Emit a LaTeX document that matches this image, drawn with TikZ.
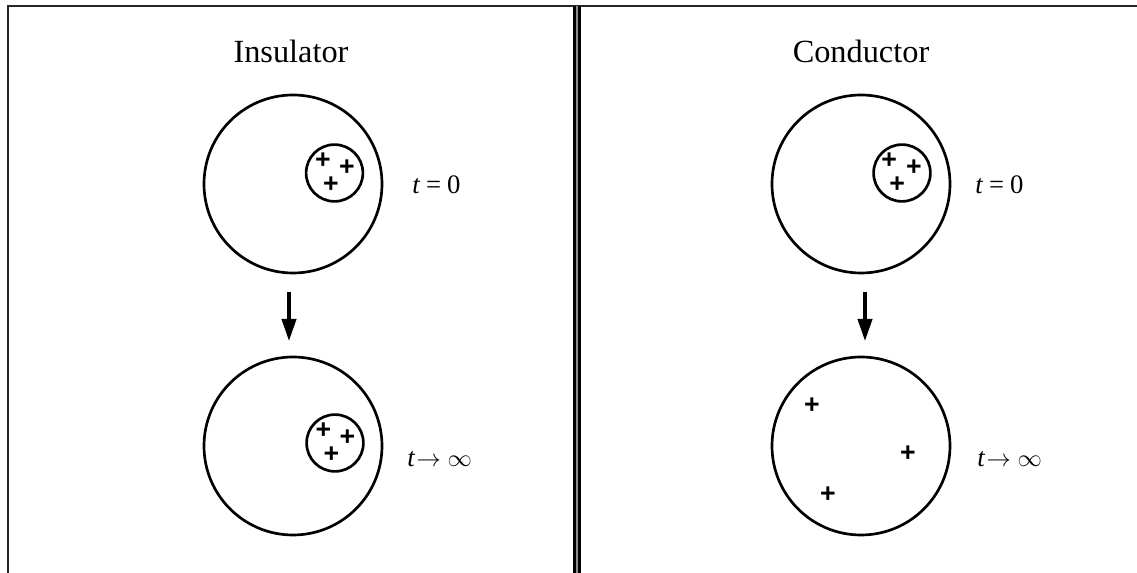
\documentclass[tikz,border=0pt]{standalone}
\usepackage{fontspec}
\setmainfont{Liberation Serif}
\newfontfamily\plusfont{Liberation Sans}
\usetikzlibrary{arrows.meta}

\begin{document}
\begin{tikzpicture}[
	frameline/.style={line width=2pt, black!85},
	ball/.style={circle, draw, line width=1.9pt, minimum size=4.45cm, inner sep=0pt},
	pocket/.style={circle, draw, line width=1.9pt, minimum size=1.42cm, inner sep=0pt},
	charge/.style={inner sep=0pt, font=\plusfont\bfseries\fontsize{19}{19}\selectfont},
	timelabel/.style={anchor=base west, inner sep=0pt, font=\fontsize{19}{22}\selectfont},
	heading/.style={anchor=base, inner sep=0pt, font=\fontsize{23}{27}\selectfont},
	evolve/.style={-{Triangle[width=0.36cm,length=0.55cm]}, line width=2.2pt}
	]
	\useasboundingbox (0,0) rectangle (28.425,14.325);
	% frame and divider
	\draw[frameline] (0.2,0) |- (28.425,14.175);
	\draw[line width=1.6pt, double=black!45, double distance=2pt] (14.425,0) -- (14.425,14.175);
	
	% insulator
	\node[heading] (ins) at (7.275,12.75) {Insulator};
	\node[ball] (itop) at (7.325,9.725) {};
	\node[pocket] (itoppoc) at (8.3625,10.0) {};
	\foreach \dx/\dy in {-0.29/0.3, 0.31/0.125, -0.09/-0.3}
		\node[charge] at ([shift={(\dx,\dy)}]itoppoc) {+};
	\node[timelabel] (itopt) at (10.3,9.475) {\textit{t}\hspace{0.22em}=\hspace{0.22em}0};
	\node[ball] (ibot) at (7.325,3.175) {};
	\node[pocket] (ibotpoc) at (8.375,3.25) {};
	\foreach \dx/\dy in {-0.29/0.3, 0.31/0.125, -0.09/-0.3}
		\node[charge] at ([shift={(\dx,\dy)}]ibotpoc) {+};
	\node[timelabel] (ibott) at (10.175,2.65) {\textit{t}\hspace{0.05em}$\rightarrow$\hspace{0.25em}$\infty$};
	\draw[evolve, shorten <=0.45cm, shorten >=0.37cm] ([xshift=-1mm]itop.south) -- ([xshift=-1mm]ibot.north);
	
	% conductor
	\node[heading] (con) at (21.525,12.75) {Conductor};
	\node[ball] (ctop) at (21.525,9.725) {};
	\node[pocket] (ctoppoc) at (22.55,10.0) {};
	\foreach \dx/\dy in {-0.32/0.32, 0.3/0.125, -0.12/-0.3}
		\node[charge] at ([shift={(\dx,\dy)}]ctoppoc) {+};
	\node[timelabel] (ctopt) at (24.375,9.475) {\textit{t}\hspace{0.22em}=\hspace{0.22em}0};
	\node[ball] (cbot) at (21.525,3.175) {};
	\node[charge] at (20.3,4.175) {+};
	\node[charge] at (22.7,2.975) {+};
	\node[charge] at (20.7,1.95) {+};
	\node[timelabel] (cbott) at (24.425,2.65) {\textit{t}\hspace{0.05em}$\rightarrow$\hspace{0.25em}$\infty$};
	\draw[evolve, shorten <=0.45cm, shorten >=0.37cm] ([xshift=1mm]ctop.south) -- ([xshift=1mm]cbot.north);
\end{tikzpicture}
\end{document}
